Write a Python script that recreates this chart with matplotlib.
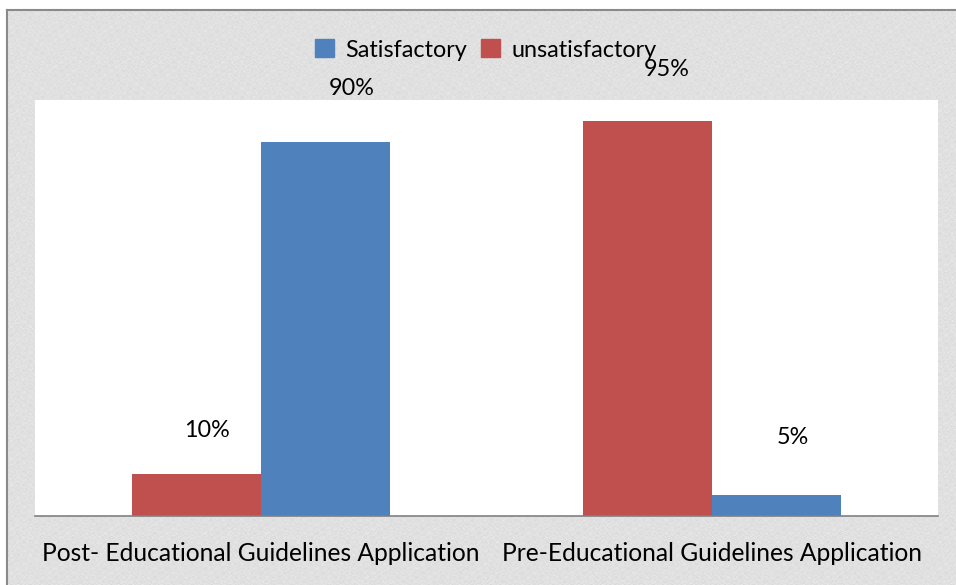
import matplotlib
matplotlib.use("Agg")
import matplotlib.pyplot as plt
import numpy as np
from matplotlib.patches import Patch
from matplotlib.lines import Line2D

categories = ["Post- Educational Guidelines Application", "Pre-Educational Guidelines Application"]
unsatisfactory = [10, 95]
satisfactory = [90, 5]
unsat_labels = ["10%", "95%"]
sat_labels = ["90%", "5%"]

plt.rcParams['font.family'] = ['Lato', 'DejaVu Sans']

W, H = 956, 585
fig = plt.figure(figsize=(W / 100, H / 100), dpi=100)
fig.patch.set_facecolor("white")

# textured background frame
bg = fig.add_axes([8 / W, 0, 1 - 8 / W, 1 - 11 / H])
bg.set_axis_off()
yy, xx = np.mgrid[0:H, 0:W].astype(float)
tex = (np.sin(xx * 1.7 + yy * 0.9) * np.sin(yy * 2.3 - xx * 0.4) * 0.5
       + np.sin(xx * 0.31 + np.sin(yy * 0.7) * 3) * np.cos(yy * 0.43 + np.sin(xx * 0.5) * 3) * 0.5)
tex = 0.88 + 0.045 * tex
bg.imshow(tex, cmap="gray", vmin=0, vmax=1, aspect="auto", interpolation="bilinear")
fig.add_artist(Line2D([7 / W, 7 / W], [0, 1 - 10 / H], transform=fig.transFigure, color="#8a8a8a", lw=1.5))
fig.add_artist(Line2D([7 / W, 1], [1 - 10 / H, 1 - 10 / H], transform=fig.transFigure, color="#8a8a8a", lw=1.5))

ax = fig.add_axes([35 / W, 1 - 516 / H, (938 - 35) / W, (516 - 100) / H])
ax.set_facecolor("white")
x = np.arange(len(categories))
w = 0.2857
red = "#C0504D"
blue = "#4F81BD"
ax.bar(x - w / 2, unsatisfactory, w, color=red, label="unsatisfactory")
ax.bar(x + w / 2, satisfactory, w, color=blue, label="Satisfactory")
ax.set_xlim(-0.5, 1.5)
ax.set_ylim(0, 100)
ax.set_yticks([])
ax.set_xticks(x)
ax.set_xticklabels(categories, fontsize=17.7)
ax.tick_params(axis="x", length=0, pad=19)
for s in ["top", "left", "right"]:
    ax.spines[s].set_visible(False)
ax.spines["bottom"].set_color("#808080")
ax.spines["bottom"].set_linewidth(1.2)

unsat_off = [(11, 44), (19, 51)]
sat_off = [(26, 53), (16, 58)]
for i in range(len(categories)):
    ax.annotate(unsat_labels[i], (x[i] - w / 2, unsatisfactory[i]), xytext=unsat_off[i],
                textcoords="offset pixels", ha="center", va="center", fontsize=16.8, annotation_clip=False)
    ax.annotate(sat_labels[i], (x[i] + w / 2, satisfactory[i]), xytext=sat_off[i],
                textcoords="offset pixels", ha="center", va="center", fontsize=16.8, annotation_clip=False)

handles = [Patch(color=blue, label="Satisfactory"), Patch(color=red, label="unsatisfactory")]
fig.legend(handles=handles, loc="center", bbox_to_anchor=(486 / W, 1 - 50 / H), ncol=2,
           frameon=False, fontsize=16.8, handlelength=0.8, handleheight=0.8,
           handletextpad=0.5, columnspacing=0.6)

fig.savefig("out.png", dpi=100)
